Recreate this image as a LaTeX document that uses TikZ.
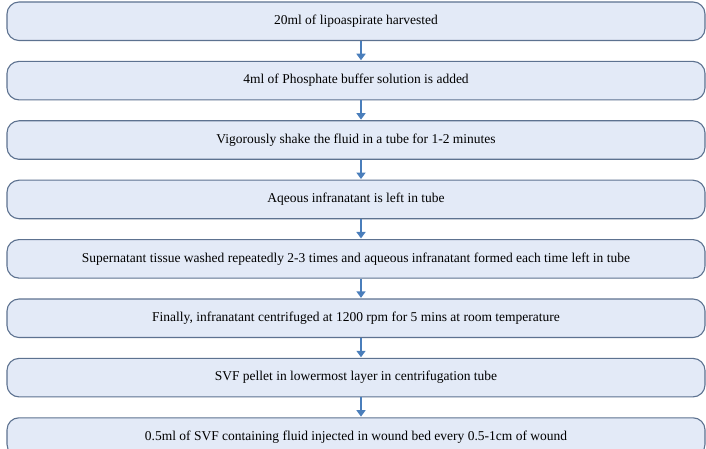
\documentclass[tikz,border=0pt]{standalone}
\usepackage{fontspec}
\setmainfont{Liberation Serif}
\usepackage{tikz}
\usetikzlibrary{arrows.meta, positioning}
\definecolor{boxfill}{HTML}{E3EAF7}
\definecolor{boxline}{HTML}{5D7290}
\definecolor{flowblue}{HTML}{4A7EBB}
\tikzstyle{stepbox} = [rectangle, rounded corners=12pt, minimum width=698pt, minimum height=38.5pt, text centered, draw=boxline, line width=1.1pt, fill=boxfill, font=\fontsize{13.5}{15}\selectfont]
\tikzstyle{arrow}   = [line width=2.8pt, draw=flowblue, -{Triangle[width=9pt,length=6.5pt]}, shorten >=0.6pt]

\begin{document}
\begin{tikzpicture}[x=1pt, y=-1pt, node distance=19.8pt]
  \useasboundingbox (0,0) rectangle (706,449);

  \node[stepbox] (s1) at (356,21.25) {20ml of lipoaspirate harvested};
  \node[stepbox, below=of s1] (s2) {4ml of Phosphate buffer solution is added};
  \node[stepbox, below=of s2] (s3) {Vigorously shake the fluid in a tube for 1-2 minutes};
  \node[stepbox, below=of s3] (s4) {Aqeous infranatant is left in tube};
  \node[stepbox, below=of s4] (s5) {Supernatant tissue washed repeatedly 2-3 times and aqueous infranatant formed each time left in tube};
  \node[stepbox, below=of s5] (s6) {Finally, infranatant centrifuged at 1200 rpm for 5 mins at room temperature};
  \node[stepbox, below=of s6] (s7) {SVF pellet in lowermost layer in centrifugation tube};
  \node[stepbox, below=of s7] (s8) {0.5ml of SVF containing fluid injected in wound bed every 0.5-1cm of wound};

  \foreach \a/\b in {s1/s2, s2/s3, s3/s4, s4/s5, s5/s6, s6/s7, s7/s8}
    \draw[arrow] ([xshift=5pt]\a.south) -- ([xshift=5pt]\b.north);
\end{tikzpicture}
\end{document}
